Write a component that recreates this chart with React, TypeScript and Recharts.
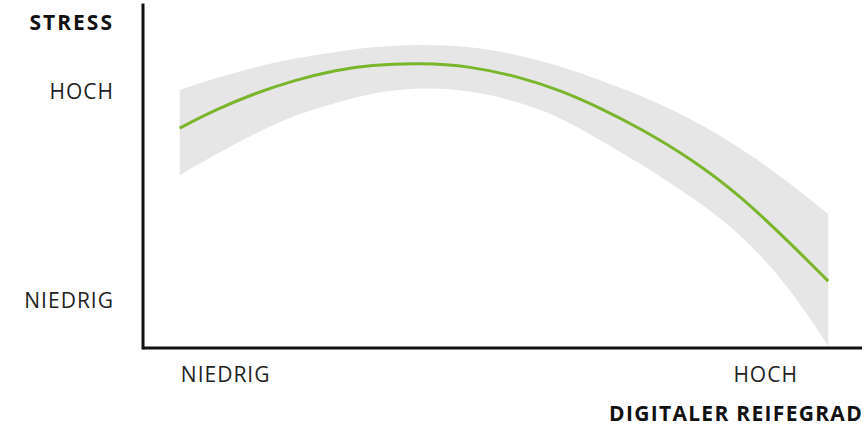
import * as React from "react";
import { ComposedChart, Area, Line, XAxis, YAxis } from "recharts";

// digital maturity (x, 0..100) and stress (y, 0..100)
const maturity = [5.1, 10.0, 15.6, 21.1, 26.7, 31.6, 38.5, 45.5, 52.4, 58.0, 63.6, 69.1, 76.1, 83.0, 90.0, 95.3];
const stress = [64.1, 69.4, 74.3, 78.1, 81.0, 82.5, 83.1, 82.2, 79.0, 75.2, 70.0, 64.1, 55.4, 44.6, 30.6, 19.5];
const bandHigh = [75.2, 78.7, 81.9, 84.5, 86.3, 87.8, 88.6, 88.0, 85.4, 82.2, 78.1, 73.8, 67.1, 58.6, 48.1, 39.1];
const bandLow = [50.4, 56.3, 62.7, 67.9, 71.4, 74.3, 76.1, 75.2, 71.7, 67.3, 60.6, 53.9, 44.3, 33.8, 17.5, 0.6];

const xTicks = [11.5, 86.6];
const xTickLabels = ["NIEDRIG", "HOCH"];
const yTicks = [13.8, 74.8];
const yTickLabels = ["NIEDRIG", "HOCH"];

const data = maturity.map((x, i) => ({
  x,
  stress: stress[i],
  band: [bandLow[i], bandHigh[i]],
}));

const font = "'Open Sans', 'DejaVu Sans', sans-serif";
const tickStyle = { fill: "#222", fontSize: 21, fontFamily: font, letterSpacing: 1 };

export default function App() {
  return (
    <div style={{ position: "absolute", left: 0, top: 0, width: 866, height: 427, background: "#fff" }}>
      <ComposedChart
        width={866}
        height={427}
        data={data}
        margin={{ top: 5, right: 4, bottom: 0, left: 142 }}
      >
        <XAxis
          dataKey="x"
          type="number"
          domain={[0, 100]}
          ticks={xTicks}
          tickFormatter={(v) => xTickLabels[xTicks.indexOf(v)]}
          height={79}
          tickLine={false}
          tickSize={0}
          tickMargin={19}
          tick={tickStyle}
          axisLine={{ stroke: "#111", strokeWidth: 3 }}
        />
        <YAxis
          type="number"
          domain={[0, 100]}
          ticks={yTicks}
          tickFormatter={(v) => yTickLabels[yTicks.indexOf(v)]}
          width={1}
          tickLine={false}
          tickSize={0}
          tickMargin={29}
          tick={tickStyle}
          axisLine={{ stroke: "#111", strokeWidth: 3, strokeLinecap: "square" }}
        />
        <Area
          type="basis"
          dataKey="band"
          stroke="none"
          fill="#e6e6e6"
          fillOpacity={1}
          isAnimationActive={false}
        />
        <Line
          type="basis"
          dataKey="stress"
          stroke="#7ab52c"
          strokeWidth={3}
          dot={false}
          isAnimationActive={false}
        />
        <text x={114} y={30} textAnchor="end" fill="#111" fontFamily={font} fontSize={21} fontWeight={700} letterSpacing={2}>
          STRESS
        </text>
        <text x={863} y={421} textAnchor="end" fill="#111" fontFamily={font} fontSize={21} fontWeight={700} letterSpacing={1.3}>
          DIGITALER REIFEGRAD
        </text>
      </ComposedChart>
    </div>
  );
}
